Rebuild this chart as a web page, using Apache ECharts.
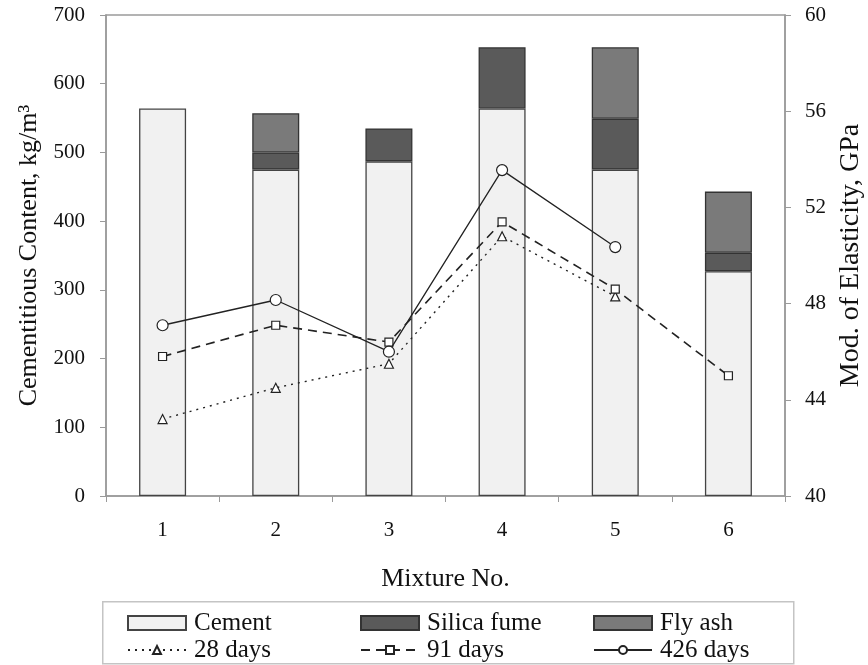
<!DOCTYPE html>
<html>
<head>
<meta charset="utf-8">
<script src="https://cdn.jsdelivr.net/npm/echarts@6/dist/echarts.min.js"></script>
<style>html,body{margin:0;padding:0;background:#fff}#c{width:868px;height:665px}</style>
</head>
<body>
<div id="c"></div>
<script>
var categories = ['1', '2', '3', '4', '5', '6'];
var cement = [564, 475, 487, 564, 475, 327];
var silicaFume = [null, 25, 48, 89, 74, 27];
var flyAsh = [null, 57, null, null, 104, 89];
var days28 = [43.2, 44.5, 45.5, 50.8, 48.3, null];
var days91 = [45.8, 47.1, 46.4, 51.4, 48.6, 45.0];
var days426 = [47.1, 48.15, 46.0, 53.55, 50.35, null];
var leftTicks = [0, 100, 200, 300, 400, 500, 600, 700];
var rightTicks = [40, 44, 48, 52, 56, 60];

var FONT = 'Liberation Serif';
var chart = echarts.init(document.getElementById('c'));
var axisGray = '#9a9a9a';

function legendAt(name, left, top, icon, ih) {
  return {
    data: [{name: name, icon: icon}], left: left, top: top, orient: 'horizontal',
    itemWidth: 58, itemHeight: ih, itemGap: 6,
    textStyle: {fontFamily: FONT, fontSize: 25, lineHeight: 26, color: '#111', padding: [0,0,0,3]},
    selectedMode: false, padding: 0
  };
}

chart.setOption({
  animation: false,
  backgroundColor: '#fff',
  grid: {left: 106, right: 83, top: 15, bottom: 169, show: true, borderColor: axisGray, borderWidth: 1.5,
    backgroundColor: 'transparent', containLabel: false, outerBoundsMode: 'none'},
  xAxis: {
    type: 'category', data: categories,
    name: 'Mixture No.', nameLocation: 'middle', nameGap: 70,
    nameTextStyle: {fontFamily: FONT, fontSize: 26, color: '#111'},
    axisLine: {lineStyle: {color: axisGray, width: 1.5}},
    axisTick: {show: true, length: 6, lineStyle: {color: axisGray}},
    axisLabel: {fontFamily: FONT, fontSize: 21, color: '#111', margin: 24}
  },
  yAxis: [{
    type: 'value', min: leftTicks[0], max: leftTicks[leftTicks.length-1], interval: 100,
    name: 'Cementitious Content, kg/m\u00B3', nameLocation: 'middle', nameGap: 64, nameRotate: 90,
    nameTextStyle: {fontFamily: FONT, fontSize: 26, color: '#111'},
    axisLine: {show: true, lineStyle: {color: axisGray, width: 1.5}},
    axisTick: {show: true, length: 6, lineStyle: {color: axisGray}},
    splitLine: {show: false},
    axisLabel: {fontFamily: FONT, fontSize: 21, color: '#111', margin: 21}
  }, {
    type: 'value', min: rightTicks[0], max: rightTicks[rightTicks.length-1], interval: 4,
    position: 'right',
    name: 'Mod. of Elasticity, GPa', nameLocation: 'middle', nameGap: 50, nameRotate: 90,
    nameTextStyle: {fontFamily: FONT, fontSize: 28, color: '#111'},
    axisLine: {show: true, lineStyle: {color: axisGray, width: 1.5}},
    axisTick: {show: true, length: 6, lineStyle: {color: axisGray}},
    splitLine: {show: false},
    axisLabel: {fontFamily: FONT, fontSize: 21, color: '#111', margin: 20}
  }],
  legend: [
    legendAt('Cement', 127, 610, 'rect', 14),
    legendAt('Silica fume', 360, 610, 'rect', 14),
    legendAt('Fly ash', 593, 610, 'rect', 14),
    legendAt('28 days', 127, 637, undefined, 10),
    legendAt('91 days', 360, 637, undefined, 10),
    legendAt('426 days', 593, 637, undefined, 10)
  ],
  graphic: [{
    type: 'rect', left: 102, top: 601, shape: {width: 691, height: 62},
    style: {fill: 'transparent', stroke: '#c4c4c4', lineWidth: 1.5}, silent: true
  }],
  series: [
    {name: 'Cement', type: 'bar', stack: 'c', data: cement, barWidth: 47,
      itemStyle: {color: '#f1f1f1', borderColor: '#444', borderWidth: 1.3}},
    {name: 'Silica fume', type: 'bar', stack: 'c', data: silicaFume, barWidth: 47,
      itemStyle: {color: '#5a5a5a', borderColor: '#333', borderWidth: 1.3}},
    {name: 'Fly ash', type: 'bar', stack: 'c', data: flyAsh, barWidth: 47,
      itemStyle: {color: '#7a7a7a', borderColor: '#333', borderWidth: 1.3}},
    {name: '28 days', type: 'line', yAxisIndex: 1, data: days28, z: 5,
      symbol: 'triangle', symbolSize: 9, showAllSymbol: true,
      lineStyle: {color: '#222', width: 1.4, type: [2, 5]},
      itemStyle: {color: '#fff', borderColor: '#222', borderWidth: 1.2}},
    {name: '91 days', type: 'line', yAxisIndex: 1, data: days91, z: 6,
      symbol: 'rect', symbolSize: 8, showAllSymbol: true,
      lineStyle: {color: '#222', width: 1.6, type: [9, 6]},
      itemStyle: {color: '#fff', borderColor: '#222', borderWidth: 1.2}},
    {name: '426 days', type: 'line', yAxisIndex: 1, data: days426, z: 7,
      symbol: 'circle', symbolSize: 11, showAllSymbol: true,
      lineStyle: {color: '#222', width: 1.3},
      itemStyle: {color: '#fff', borderColor: '#222', borderWidth: 1.2}}
  ]
});
</script>
</body>
</html>
